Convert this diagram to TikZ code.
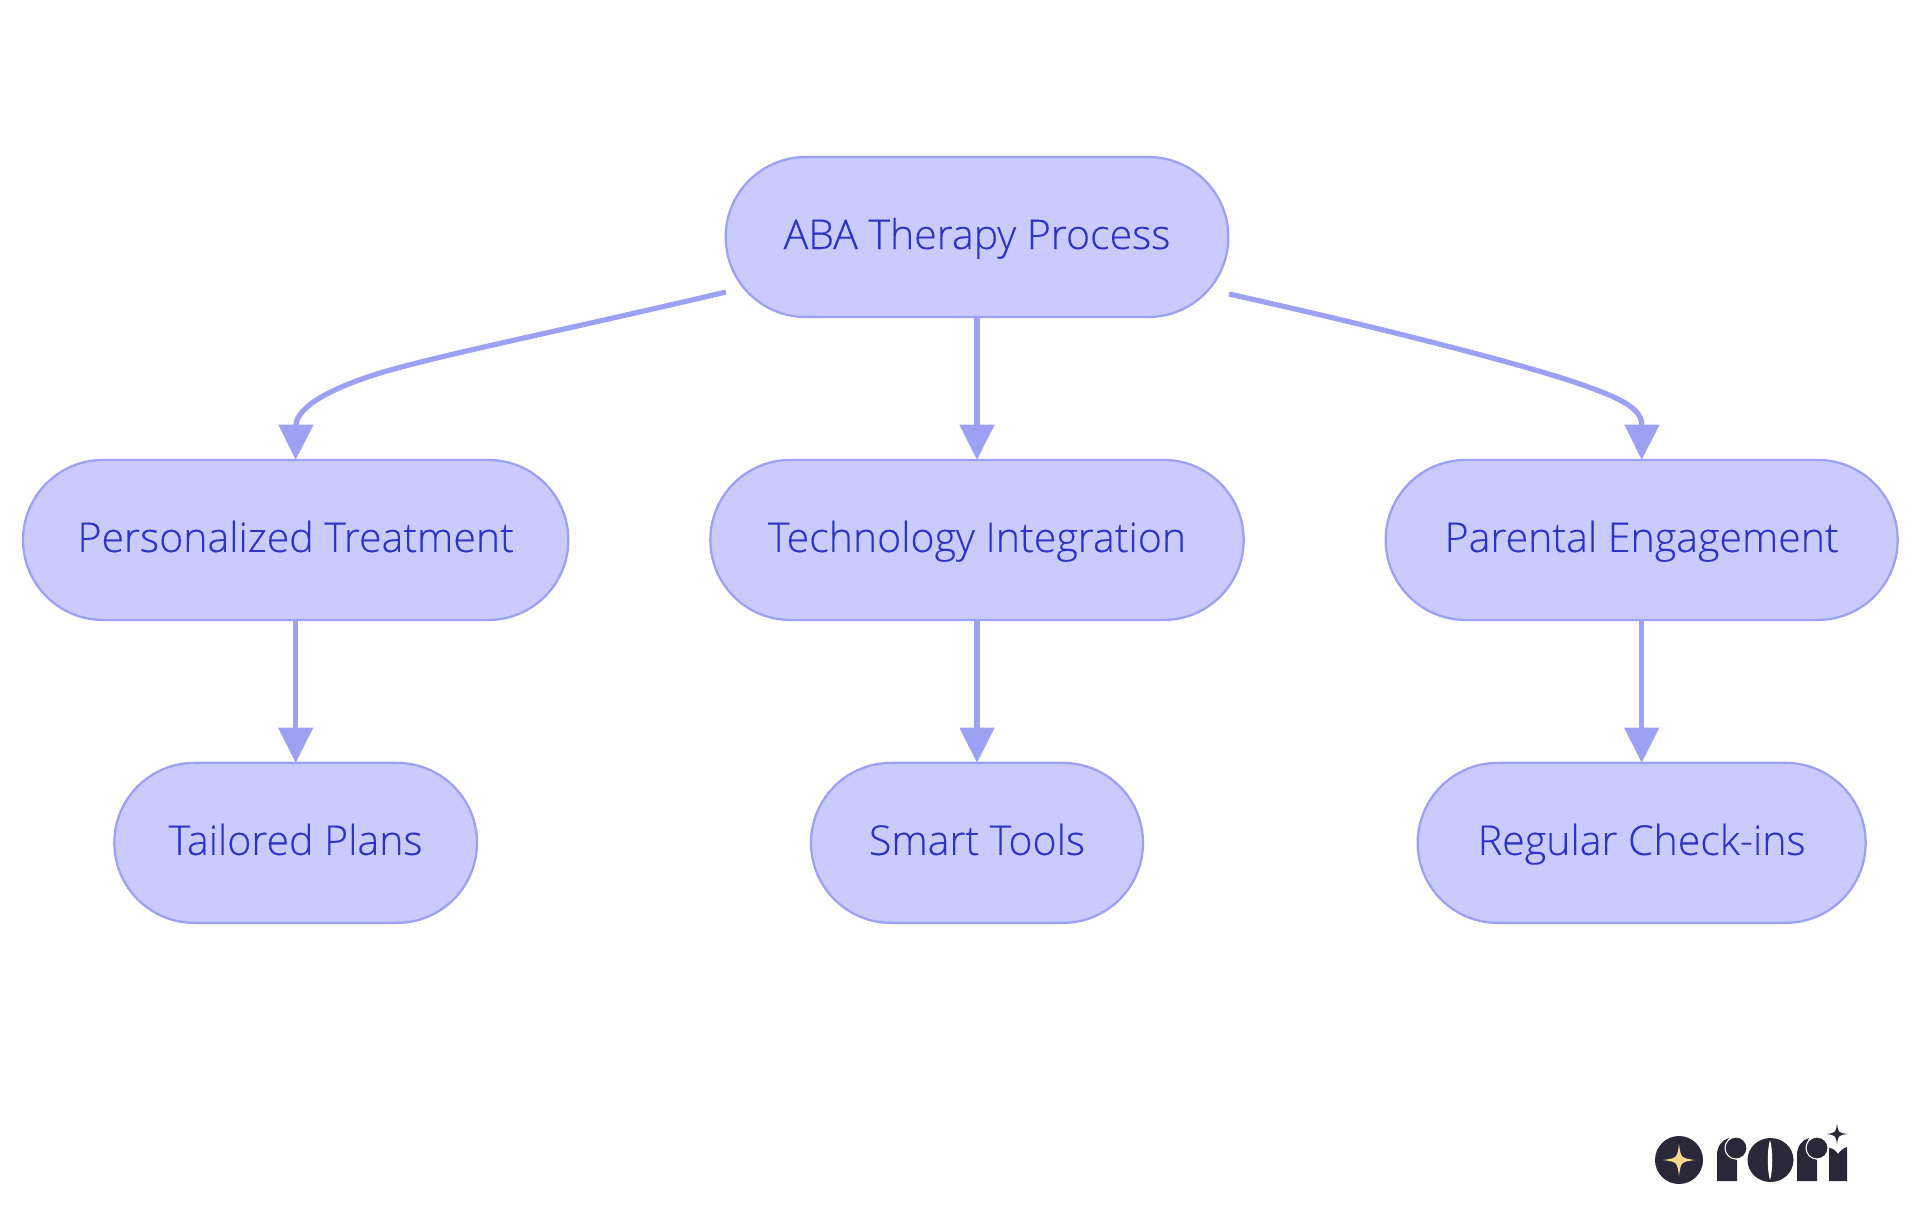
\documentclass[tikz,border=0pt]{standalone}
\usepackage{fontspec}
\setmainfont[FakeBold=0.25]{Open Sans Light}
\usetikzlibrary{positioning}
\usetikzlibrary{arrows.meta}
\definecolor{nodefill}{HTML}{C9CBFD}
\definecolor{nodeline}{HTML}{9DA1F3}
\definecolor{nodetext}{HTML}{2E33C8}
\definecolor{logodark}{HTML}{2A2838}
\definecolor{logostar}{HTML}{FBD88C}
\tikzstyle{termnode} = [draw=nodeline, fill=nodefill, text=nodetext, line width=1.7pt, outer sep=0pt, rounded corners=60pt, minimum height=120pt, inner xsep=0pt, text height=22.5pt, text depth=4.5pt, align=center, font=\fontsize{30.8pt}{36pt}\selectfont]
\tikzstyle{edge} = [draw=nodeline, line width=3.9pt, -{Triangle[length=26.5pt, width=25.5pt]}]
\newcommand{\sparkle}[4]{\fill[#4] (#1,#2-#3) .. controls (#1+0.12*#3,#2-0.12*#3) .. (#1+#3,#2) .. controls (#1+0.12*#3,#2+0.12*#3) .. (#1,#2+#3) .. controls (#1-0.12*#3,#2+0.12*#3) .. (#1-#3,#2) .. controls (#1-0.12*#3,#2-0.12*#3) .. (#1,#2-#3) -- cycle;}
\begin{document}
\begin{tikzpicture}[x=0.75pt, y=-0.75pt, node distance=107.2pt]
  \useasboundingbox (0,0) rectangle (1920,1215);

  \node[termnode, minimum width=377pt] (root) at (977,237) {ABA Therapy Process};
  \node[termnode, minimum width=400pt, below=of root] (tech) {Technology Integration};
  \node[termnode, minimum width=409pt, left=106.5pt of tech] (pers) {Personalized Treatment};
  \node[termnode, minimum width=384pt, right=106.5pt of tech] (pare) {Parental Engagement};
  \node[termnode, minimum width=272pt, below=of pers] (plans) {Tailored Plans};
  \node[termnode, minimum width=249pt, below=of tech] (tools) {Smart Tools};
  \node[termnode, minimum width=336pt, below=of pare] (check) {Regular Check-ins};

  \coordinate (rootleft) at (726,292);
  \coordinate (rootright) at (1229,294);

  \draw[edge] (rootleft) .. controls (560,331) and (440,355) .. (380,373) .. controls (328,389) and (296,408) .. (pers.north);
  \draw[edge] (root) -- (tech);
  \draw[edge] (rootright) .. controls (1395,331) and (1528,366) .. (1580,384) .. controls (1620,398) and (1642,408) .. (pare.north);
  \draw[edge] (pers) -- (plans);
  \draw[edge] (tech) -- (tools);
  \draw[edge] (pare) -- (check);

  % logo
  \fill[logodark] (1679,1160) circle (24);
  \sparkle{1679}{1160}{16}{logostar}
  \fill[logodark] (1717,1181) -- (1717,1155) .. controls (1717,1146) and (1722,1140) .. (1729,1138) .. controls (1724,1146) and (1728,1156) .. (1737,1160) -- (1737,1181) -- cycle;
  \fill[logodark, draw=white, line width=0.8pt] (1736,1148) circle (11);
  \fill[logodark] (1770.5,1160) ellipse (23 and 22);
  \fill[white] (1770,1140) .. controls (1767,1150) and (1767,1170) .. (1770,1180) .. controls (1773,1170) and (1773,1150) .. (1770,1140) -- cycle;
  \fill[logodark] (1797,1181) -- (1797,1155) .. controls (1797,1146) and (1802,1140) .. (1809,1138) .. controls (1804,1146) and (1808,1156) .. (1817,1160) -- (1817,1181) -- cycle;
  \fill[logodark, draw=white, line width=0.8pt] (1817,1148) circle (11);
  \fill[logodark] (1829,1181) -- (1829,1148) .. controls (1833,1148) and (1836,1151) .. (1838,1154) .. controls (1840,1151) and (1843,1148) .. (1847,1147) -- (1847,1181) -- cycle;
  \sparkle{1837}{1134}{10.5}{logodark}
\end{tikzpicture}
\end{document}
